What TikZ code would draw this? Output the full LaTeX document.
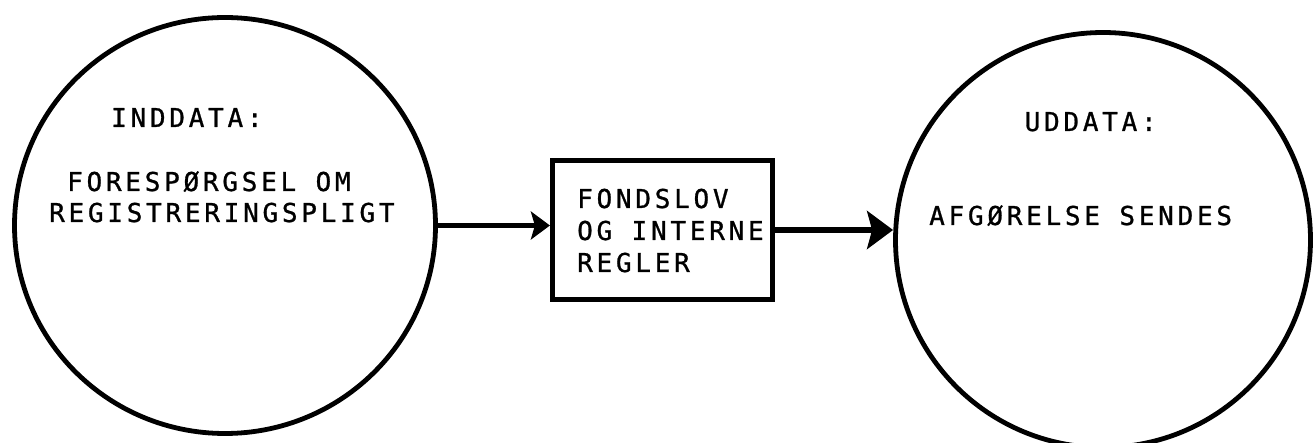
\documentclass[tikz,border=0pt]{standalone}
\usepackage{fontspec}
\usetikzlibrary{shapes.geometric,arrows.meta}
% typewriter-like capitals with wide letter spacing
\newfontfamily\printfont[LetterSpace=14.4,FakeBold=1]{DejaVu Sans Mono}
\begin{document}
\begin{tikzpicture}[x=1pt,y=-1pt,
  bubble/.style={ellipse, draw, line width=4.8pt, inner sep=0pt},
  procbox/.style={rectangle, draw, line width=5.2pt, inner sep=0pt,
                  minimum width=220pt, minimum height=139pt},
  txt/.style={inner sep=0pt, anchor=base west, align=left,
              font=\printfont\fontsize{26}{31}\selectfont},
  flow/.style={draw, line width=5.5pt}
]
\useasboundingbox (0,0) rectangle (1315,443);
\clip (0,0) rectangle (1315,443);

% input store, process box, output store
\node[bubble, minimum width=421pt, minimum height=416pt] (inn) at (225,225.5) {};
\node[procbox] (fond) at (662.5,230) {};
\node[bubble, minimum width=415pt, minimum height=415pt] (ud) at (1103,240) {};

% texts (base anchor sits on the last line of a block)
\node[txt] (inhead) at (111,127) {INDDATA:};
\node[txt] (inbody) at (49,222) {\hspace*{18pt}FORESPØRGSEL OM\\REGISTRERINGSPLIGT};
\node[txt, font=\printfont\fontsize{26}{32}\selectfont] (fondtxt) at (577,272)
  {FONDSLOV\\OG INTERNE\\REGLER};
\node[txt] (udhead) at (1024.5,131) {UDDATA:};
\node[txt] (udbody) at (929,225) {AFGØRELSE SENDES};

% connectors
\draw[flow, -{Stealth[length=19pt,width=28pt,inset=4pt]}]
  (inn.east) -- (inn.east -| fond.west);
\draw[flow, line width=6.5pt, -{Stealth[length=26pt,width=38pt,inset=5pt]}]
  (fond.east) -- (fond.east -| ud.west);
\end{tikzpicture}
\end{document}
